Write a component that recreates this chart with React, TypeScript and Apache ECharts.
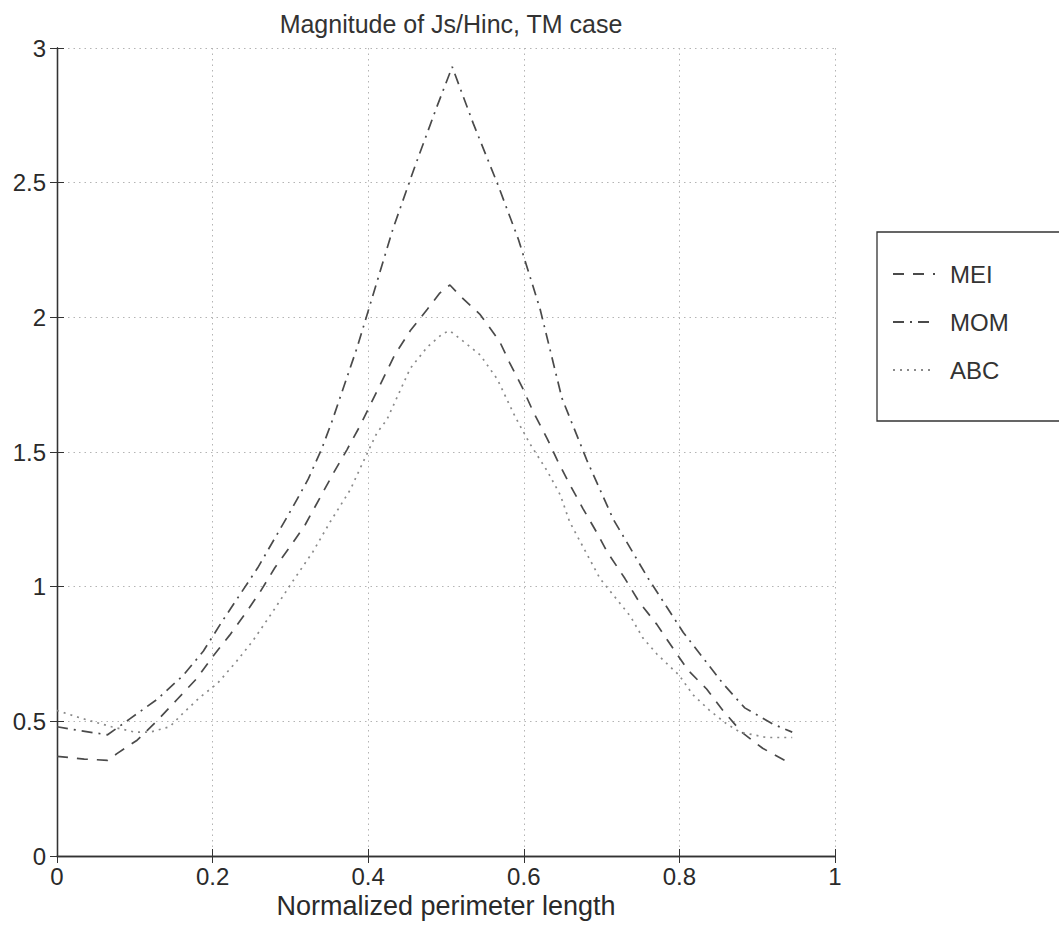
import React, { useEffect, useRef } from "react";
import * as echarts from "echarts";

const TITLE = "Magnitude of Js/Hinc, TM case";
const X_NAME = "Normalized perimeter length";
const SERIES_NAMES = ["MEI", "MOM", "ABC"];

const meiX = [0, 0.035, 0.065, 0.077, 0.103, 0.128, 0.154, 0.18, 0.2, 0.222, 0.242, 0.261, 0.28, 0.3, 0.319, 0.338, 0.355, 0.373, 0.39, 0.434, 0.454, 0.476, 0.492, 0.505, 0.518, 0.544, 0.569, 0.582, 0.598, 0.612, 0.63, 0.643, 0.659, 0.676, 0.694, 0.707, 0.73, 0.749, 0.771, 0.792, 0.811, 0.835, 0.856, 0.88, 0.907, 0.945];
const meiY = [0.37, 0.36, 0.355, 0.38, 0.43, 0.5, 0.58, 0.66, 0.74, 0.82, 0.9, 0.98, 1.07, 1.15, 1.23, 1.33, 1.42, 1.51, 1.6, 1.86, 1.95, 2.03, 2.09, 2.12, 2.08, 2.01, 1.91, 1.83, 1.74, 1.65, 1.55, 1.47, 1.38, 1.29, 1.2, 1.13, 1.03, 0.94, 0.86, 0.77, 0.69, 0.62, 0.54, 0.46, 0.4, 0.34];

const momX = [0, 0.03, 0.065, 0.094, 0.128, 0.162, 0.188, 0.212, 0.235, 0.258, 0.28, 0.302, 0.323, 0.34, 0.353, 0.386, 0.409, 0.432, 0.46, 0.488, 0.508, 0.535, 0.567, 0.593, 0.621, 0.649, 0.681, 0.715, 0.76, 0.805, 0.856, 0.884, 0.92, 0.945];
const momY = [0.48, 0.465, 0.45, 0.51, 0.58, 0.67, 0.76, 0.87, 0.97, 1.07, 1.18, 1.29, 1.4, 1.51, 1.61, 1.89, 2.11, 2.33, 2.56, 2.78, 2.93, 2.72, 2.49, 2.29, 2.03, 1.7, 1.47, 1.25, 1.03, 0.83, 0.64, 0.55, 0.49, 0.46];

const abcX = [0, 0.033, 0.07, 0.1, 0.12, 0.145, 0.162, 0.184, 0.206, 0.23, 0.252, 0.278, 0.303, 0.329, 0.351, 0.377, 0.393, 0.411, 0.424, 0.454, 0.476, 0.496, 0.505, 0.527, 0.544, 0.566, 0.589, 0.608, 0.63, 0.647, 0.659, 0.672, 0.698, 0.737, 0.753, 0.771, 0.8, 0.817, 0.839, 0.861, 0.878, 0.912, 0.945];
const abcY = [0.54, 0.51, 0.48, 0.46, 0.46, 0.48, 0.53, 0.59, 0.64, 0.72, 0.8, 0.91, 1.02, 1.13, 1.24, 1.36, 1.46, 1.57, 1.62, 1.81, 1.89, 1.94, 1.95, 1.9, 1.86, 1.77, 1.63, 1.53, 1.43, 1.34, 1.24, 1.17, 1.03, 0.89, 0.81, 0.75, 0.67, 0.6, 0.54, 0.49, 0.46, 0.44, 0.44];

const X_MIN = 0, X_MAX = 1, X_STEP = 0.2;
const Y_MIN = 0, Y_MAX = 3, Y_STEP = 0.5;

const FONT = "'Liberation Sans', Arial, Helvetica, sans-serif";

function pairs(xs: number[], ys: number[]) {
  return xs.map((x, i) => [x, ys[i]]);
}

export default function App() {
  const ref = useRef<HTMLDivElement>(null);
  useEffect(() => {
    if (!ref.current) return;
    const chart = echarts.init(ref.current, null, { renderer: "svg" });
    const axisLine = { show: true, lineStyle: { color: "#333", width: 1.3 } };
    const gridLine = { show: true, lineStyle: { color: "#b4b4b4", type: [1.5, 4] as any, width: 1 } };
    const tick = { show: true, inside: true, length: 7, lineStyle: { color: "#333" } };
    const label = { color: "#2a2a2a", fontSize: 24, fontFamily: FONT };
    chart.setOption({
      animation: false,
      backgroundColor: "#ffffff",
      title: {
        text: TITLE,
        left: 446,
        textAlign: "center",
        top: 6,
        textStyle: { fontSize: 25, fontWeight: "normal", color: "#333", fontFamily: FONT },
      },
      grid: { left: 57, right: 224, top: 48, bottom: 77, containLabel: false },
      legend: {
        orient: "vertical",
        left: 887,
        top: 257,
        itemWidth: 42,
        itemHeight: 14,
        itemGap: 24,
        itemStyle: { opacity: 0 },
        textStyle: { fontSize: 24, color: "#333", fontFamily: FONT, padding: [0, 0, 0, 10] },
        data: SERIES_NAMES,
      },
      graphic: [
        {
          type: "rect",
          shape: { x: 877, y: 232, width: 200, height: 189 },
          style: { fill: "none", stroke: "#333", lineWidth: 1.3 },
          silent: true,
          z: -1,
        },
      ],
      xAxis: [
        {
          type: "value",
          min: X_MIN,
          max: X_MAX,
          interval: X_STEP,
          name: X_NAME,
          nameLocation: "middle",
          nameGap: 36,
          nameTextStyle: { fontSize: 27, color: "#2a2a2a", fontFamily: FONT },
          axisLine,
          axisTick: tick,
          axisLabel: { ...label, margin: 8 },
          splitLine: gridLine,
        },
        {
          type: "value",
          position: "top",
          min: X_MIN,
          max: X_MAX,
          interval: X_STEP,
          axisLine,
          axisTick: tick,
          axisLabel: { show: false },
          splitLine: { show: false },
        },
      ],
      yAxis: [
        {
          type: "value",
          min: Y_MIN,
          max: Y_MAX,
          interval: Y_STEP,
          axisLine,
          axisTick: tick,
          axisLabel: { ...label, margin: 11 },
          splitLine: gridLine,
        },
        {
          type: "value",
          position: "right",
          min: Y_MIN,
          max: Y_MAX,
          interval: Y_STEP,
          axisLine,
          axisTick: tick,
          axisLabel: { show: false },
          splitLine: { show: false },
        },
      ],
      series: [
        {
          name: SERIES_NAMES[0],
          type: "line",
          data: pairs(meiX, meiY),
          showSymbol: false,
          symbol: "none",
          lineStyle: { color: "#4a4a4a", width: 1.7, type: [11, 9] },
          itemStyle: { color: "#4a4a4a" },
        },
        {
          name: SERIES_NAMES[1],
          type: "line",
          data: pairs(momX, momY),
          showSymbol: false,
          symbol: "none",
          lineStyle: { color: "#4a4a4a", width: 1.7, type: [11, 6, 2, 6] },
          itemStyle: { color: "#4a4a4a" },
        },
        {
          name: SERIES_NAMES[2],
          type: "line",
          data: pairs(abcX, abcY),
          showSymbol: false,
          symbol: "none",
          lineStyle: { color: "#8a8a8a", width: 1.7, type: [2, 5] },
          itemStyle: { color: "#8a8a8a" },
        },
      ],
    });
    return () => chart.dispose();
  }, []);
  return (
    <div
      ref={ref}
      style={{ position: "fixed", left: 0, top: 0, width: 1059, height: 933, background: "#fff" }}
    />
  );
}
